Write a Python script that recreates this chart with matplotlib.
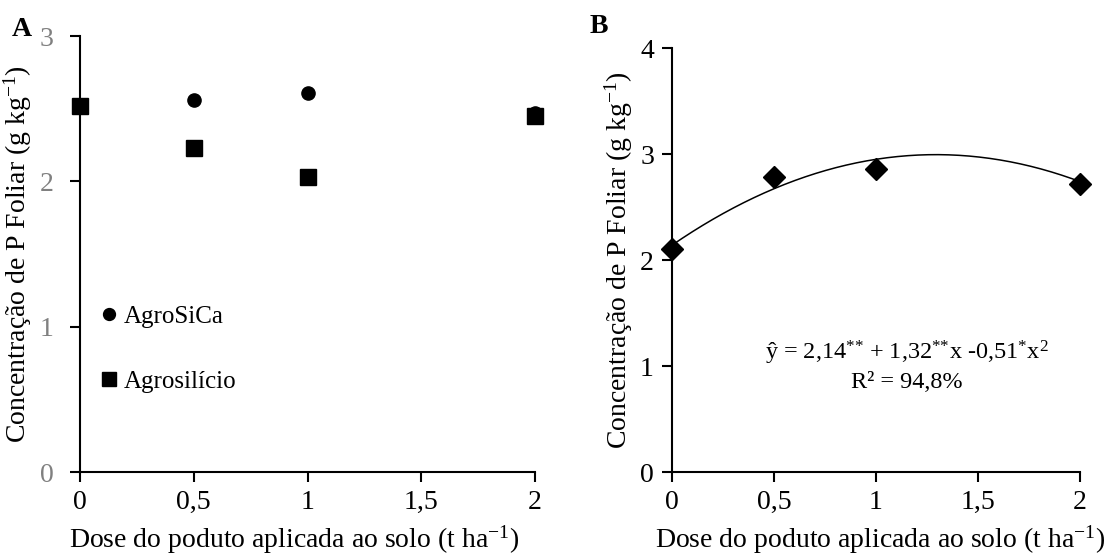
import matplotlib
matplotlib.use("Agg")
import matplotlib.pyplot as plt
import numpy as np

plt.rcParams['font.family'] = ['Liberation Serif', 'DejaVu Serif']
plt.rcParams['mathtext.fontset'] = 'custom'
plt.rcParams['mathtext.rm'] = 'Liberation Serif'
plt.rcParams['mathtext.it'] = 'Liberation Serif:italic'

# Panel A data
doses = [0, 0.5, 1, 2]
agrosica = [2.52, 2.56, 2.61, 2.47]
agrosilicio = [2.52, 2.23, 2.03, 2.45]

# Panel B data
doses_b = [0, 0.5, 1, 2]
p_b = [2.10, 2.78, 2.86, 2.72]
coef = [2.14, 1.32, -0.51]

xticks = [0, 0.5, 1, 1.5, 2]
xticklabels = ['0', '0,5', '1', '1,5', '2']
yticks_a = [0, 1, 2, 3]
yticks_b = [0, 1, 2, 3, 4]

xlabel = 'Dose do poduto aplicada ao solo (t ha$^{\\mathregular{-1}}$)'
ylabel = 'Concentração de P Foliar (g kg$^{\\mathregular{-1}}$)'

fs = 20
fig = plt.figure(figsize=(11.08, 5.55), dpi=100)
axA = fig.add_axes([0.0722, 0.1495, 0.4107, 0.7855])
axB = fig.add_axes([0.6065, 0.1495, 0.3682, 0.764])

for ax in (axA, axB):
    ax.spines['top'].set_visible(False)
    ax.spines['right'].set_visible(False)
    ax.spines['left'].set_linewidth(1.5)
    ax.spines['bottom'].set_linewidth(1.5)
    ax.tick_params(direction='out', length=7, width=1.5, labelsize=fs, pad=6)
    ax.set_xlim(0, 2)
    ax.set_xticks(xticks)
    ax.set_xticklabels(xticklabels)
    ax.set_ylabel(ylabel, fontsize=fs, labelpad=4)
    for sp in ax.spines.values():
        sp.set_clip_on(False)

axA.set_xlabel(xlabel, fontsize=fs, labelpad=6, x=0.47)
axB.set_xlabel(xlabel, fontsize=fs, labelpad=6, x=0.51)

# Panel A
axA.set_ylim(0, 3)
axA.set_yticks(yticks_a)
axA.tick_params(axis='y', labelcolor='#808080', pad=12)
axA.plot(doses, agrosilicio, 's', color='black', markersize=11, clip_on=False,
         label='Agrosilício', zorder=3)
axA.plot(doses, agrosica, 'o', color='black', markersize=9.5, clip_on=False,
         label='AgroSiCa', zorder=2)
h, l = axA.get_legend_handles_labels()
axA.legend([h[1], h[0]], [l[1], l[0]], loc='upper left', bbox_to_anchor=(0.025, 0.405),
           frameon=False, fontsize=18, handlelength=0.6, handletextpad=0.3,
           labelspacing=1.7, borderaxespad=0, markerscale=0.9)
fig.text(0.011, 0.935, 'A', fontsize=20, fontweight='bold')

# Panel B
axB.set_ylim(0, 4)
axB.set_yticks(yticks_b)
xs = np.linspace(0, 2, 200)
axB.plot(xs, coef[0] + coef[1] * xs + coef[2] * xs ** 2, color='black', lw=1.1)
axB.plot(doses_b, p_b, 'D', color='black', markersize=11, clip_on=False, zorder=3)
axB.text(0.575, 0.28,
         'ŷ = 2,14$^{\\mathregular{{*}{*}}}$ + 1,32$^{\\mathregular{{*}{*}}}$x -0,51$^{\\mathregular{{*}}}$x$^{\\mathregular{2}}$',
         transform=axB.transAxes, ha='center', va='center', fontsize=17.5)
axB.text(0.575, 0.21, 'R² = 94,8%', transform=axB.transAxes, ha='center',
         va='center', fontsize=17.5)
fig.text(0.532, 0.94, 'B', fontsize=20, fontweight='bold')

fig.savefig('out.png', dpi=100)
